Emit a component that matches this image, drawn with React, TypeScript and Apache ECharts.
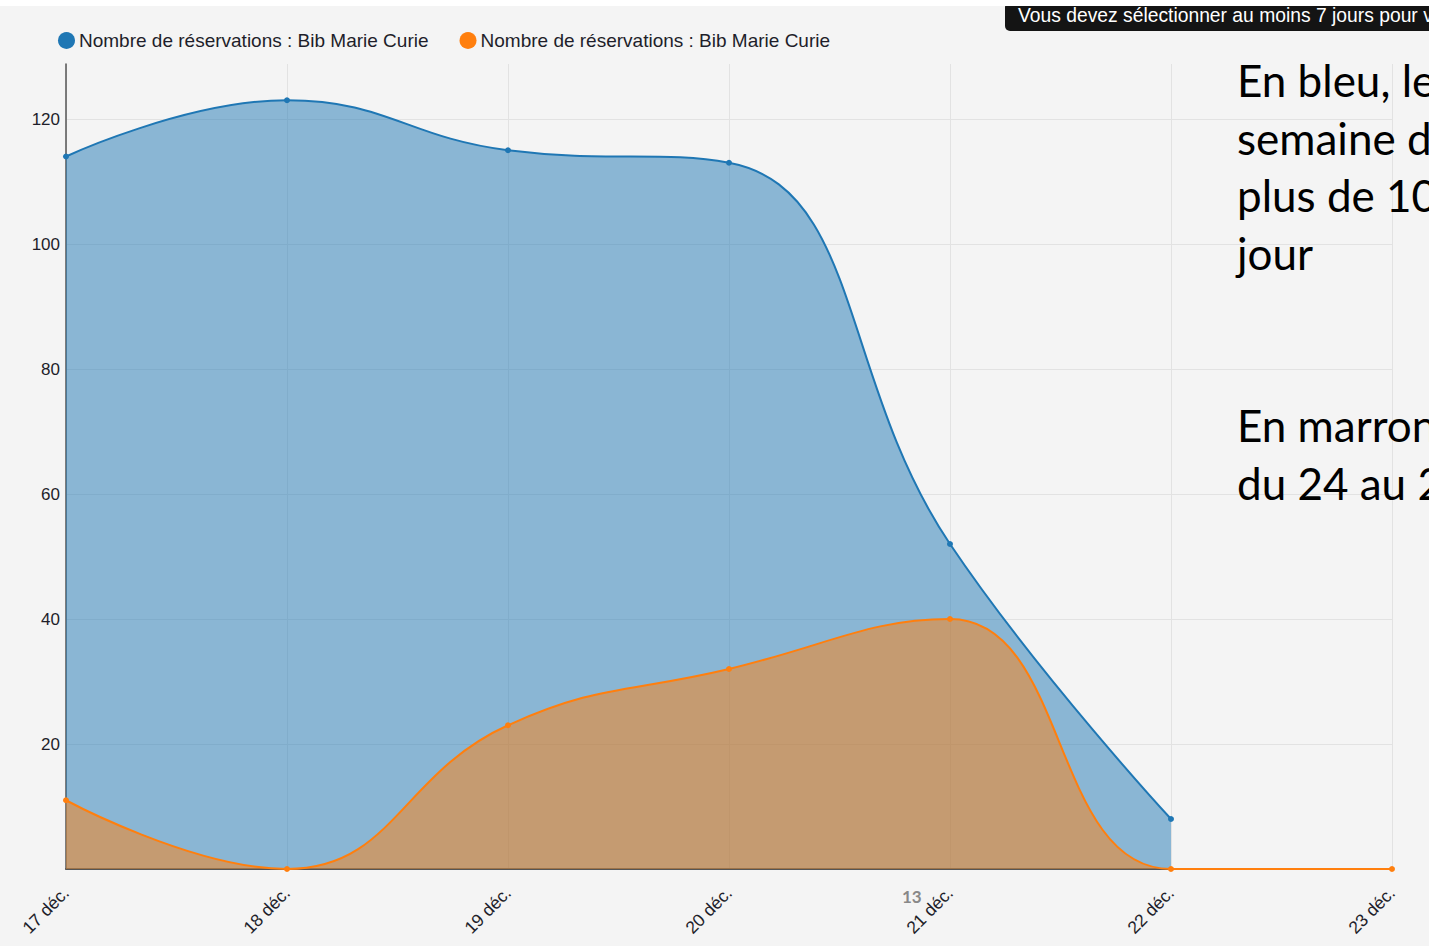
import React, { useEffect, useRef } from "react";
import * as echarts from "echarts";

const categories = ["17 déc.", "18 déc.", "19 déc.", "20 déc.", "21 déc.", "22 déc.", "23 déc."];
const blueValues: (number | null)[] = [114, 123, 115, 113, 52, 8, null];
const orangeValues: number[] = [11, 0, 23, 32, 40, 0, 0];
const seriesName = "Nombre de réservations : Bib Marie Curie";
const noteLines = ["En bleu, le", "semaine d", "plus de 10", "jour"];
const noteLines2 = ["En marron", "du 24 au 2"];
const tooltipText = "Vous devez sélectionner au moins 7 jours pour v";

export default function App() {
  const ref = useRef<HTMLDivElement>(null);
  useEffect(() => {
    if (!ref.current) return;
    const chart = echarts.init(ref.current, null, { renderer: "svg" });
    const textFont = "Lato, 'Open Sans', sans-serif";
    const uiFont = "Arial, 'Liberation Sans', sans-serif";
    chart.setOption({
      animation: false,
      backgroundColor: "#f4f4f4",
      color: ["#1f77b4", "#ff7f0e"],
      legend: {
        left: 53,
        top: 26,
        icon: "circle",
        itemWidth: 17,
        itemHeight: 17,
        itemGap: 31,
        textStyle: { fontFamily: uiFont, fontSize: 19, color: "#1e1e2a", padding: [0, 0, 0, -1] },
        data: [
          { name: seriesName, itemStyle: { color: "#1f77b4" } },
          { name: seriesName + " ", itemStyle: { color: "#ff7f0e" } },
        ],
        formatter: (n: string) => n.trim(),
      },
      grid: { left: 66, right: 37, top: 64, bottom: 77, containLabel: false },
      xAxis: {
        type: "category",
        data: categories,
        boundaryGap: false,
        axisLine: { show: true, lineStyle: { color: "#555", width: 2 } },
        axisTick: { show: false },
        splitLine: { show: true, lineStyle: { color: "#e2e2e2" } },
        axisLabel: {
          rotate: 45,
          margin: 21,
          interval: 0,
          fontFamily: uiFont,
          fontSize: 17.5,
          color: "#1e1e2a",
        },
      },
      yAxis: {
        type: "value",
        min: 0,
        max: 128.8,
        interval: 20,
        axisLine: { show: true, lineStyle: { color: "#555", width: 1.5 } },
        axisTick: { show: false },
        splitLine: { show: true, showMaxLine: false, lineStyle: { color: "#e2e2e2" } },
        axisLabel: {
          margin: 6,
          fontFamily: uiFont,
          fontSize: 17,
          color: "#1e1e2a",
          formatter: (v: number) => (v > 0 && v % 20 === 0 ? String(v) : ""),
        },
      },
      series: [
        {
          name: seriesName,
          type: "line",
          data: blueValues,
          smooth: 0.45,
          symbol: "circle",
          symbolSize: 6,
          showSymbol: true,
          lineStyle: { color: "#1f77b4", width: 2 },
          itemStyle: { color: "#1f77b4" },
          areaStyle: { color: "#1f77b4", opacity: 0.5 },
        },
        {
          name: seriesName + " ",
          type: "line",
          data: orangeValues,
          smooth: 0.45,
          symbol: "circle",
          symbolSize: 6,
          showSymbol: true,
          lineStyle: { color: "#ff7f0e", width: 2 },
          itemStyle: { color: "#ff7f0e" },
          areaStyle: { color: "#ff7f0e", opacity: 0.5 },
        },
      ],
      graphic: [
        { type: "rect", left: 0, top: 0, shape: { width: 1429, height: 6 }, style: { fill: "#ffffff" }, z: 100 },
        {
          type: "rect",
          shape: { x: 1005, y: 2, width: 440, height: 29, r: 5 },
          style: { fill: "rgba(0,0,0,0.92)" },
          z: 99,
        },
        {
          type: "text",
          x: 1018,
          y: 15,
          style: {
            text: tooltipText,
            fill: "#ffffff",
            font: `19.3px ${uiFont}`,
            textVerticalAlign: "middle",
          },
          z: 101,
        },
        ...noteLines.map((t, i) => ({
          type: "text",
          x: 1237,
          y: 80 + i * 57.5,
          style: { text: t, fill: "#000", font: `44px ${textFont}`, textVerticalAlign: "middle" },
          z: 50,
        })),
        ...noteLines2.map((t, i) => ({
          type: "text",
          x: 1237,
          y: 425 + i * 57.5,
          style: { text: t, fill: "#000", font: `44px ${textFont}`, textVerticalAlign: "middle" },
          z: 50,
        })),
        {
          type: "text",
          x: 902,
          y: 896,
          style: { text: "13", fill: "#888", font: "bold 17px Lato, sans-serif", textVerticalAlign: "middle" },
          z: 50,
        },
      ],
    });
    return () => chart.dispose();
  }, []);
  return (
    <div
      ref={ref}
      style={{ position: "absolute", left: 0, top: 0, width: 1429, height: 946 }}
    />
  );
}
